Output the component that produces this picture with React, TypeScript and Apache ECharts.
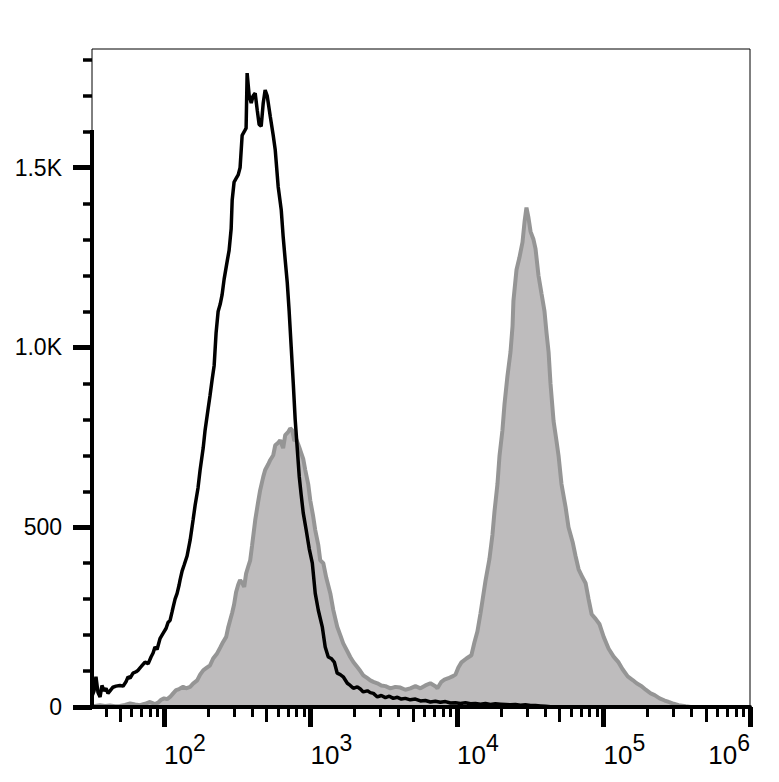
import React, { useEffect, useRef } from "react";
import * as echarts from "echarts";

// X axis is in decades: log10 of the fluorescence intensity
const X_MIN_DECADE = 1.508;
const X_MAX_DECADE = 6;
const Y_MAX = 1830;
const Y_AXIS_LINE_TOP = 1605;

const xLabelDecades = [2, 3, 4, 5];
const xLastLabelDecade = [6];
const xMajorTickDecades = [2, 3, 4, 5, 6];
const xMidTickValues = [50, 500, 5000, 50000, 500000];
const xMinorTickValues = [
  40, 60, 70, 80, 90,
  200, 300, 400, 600, 700, 800, 900,
  2000, 3000, 4000, 6000, 7000, 8000, 9000,
  20000, 30000, 40000, 60000, 70000, 80000, 90000,
  200000, 300000, 400000, 600000, 700000, 800000, 900000,
];

const yLabelValues = [0, 500, 1000, 1500];
const yLabelTexts = ["0", "500", "1.0K", "1.5K"];
const yMinorTickValues = [100, 200, 300, 400, 600, 700, 800, 900, 1100, 1200, 1300, 1400, 1600, 1700, 1800];

// Black (control) histogram: position in decades, count
const blackX = [
  1.508, 1.522, 1.535, 1.549, 1.563, 1.576, 1.590, 1.604, 1.617, 1.631, 1.651, 1.672, 1.699, 1.720, 1.740, 1.754,
  1.768, 1.788, 1.809, 1.822, 1.843, 1.870, 1.891, 1.911, 1.925, 1.938, 1.952, 1.973, 1.993, 2.014, 2.027, 2.041,
  2.055, 2.062, 2.075, 2.089, 2.103, 2.109, 2.123, 2.137, 2.157, 2.178, 2.198, 2.212, 2.232, 2.246, 2.267, 2.280,
  2.301, 2.314, 2.328, 2.342, 2.355, 2.369, 2.383, 2.396, 2.410, 2.431, 2.444, 2.458, 2.465, 2.478, 2.492, 2.506,
  2.519, 2.533, 2.547, 2.560, 2.567, 2.581, 2.595, 2.608, 2.622, 2.636, 2.649, 2.663, 2.677, 2.690, 2.704, 2.725,
  2.745, 2.759, 2.779, 2.800, 2.813, 2.827, 2.841, 2.854, 2.868, 2.882, 2.895, 2.909, 2.923, 2.936, 2.950, 2.971,
  2.991, 3.012, 3.032, 3.053, 3.080, 3.100, 3.121, 3.141, 3.162, 3.182, 3.203, 3.223, 3.251, 3.271, 3.292, 3.319,
  3.340, 3.360, 3.388, 3.408, 3.429, 3.456, 3.483, 3.511, 3.538, 3.565, 3.593, 3.620, 3.647, 3.681, 3.716, 3.750,
  3.784, 3.818, 3.852, 3.886, 3.921, 3.955, 3.989, 4.023, 4.057, 4.092, 4.126, 4.160, 4.194, 4.228, 4.262, 4.297,
  4.331, 4.365, 4.399, 4.433, 4.467, 4.502, 4.536, 4.570, 4.604, 4.638, 4.707,
];
const blackY = [
  30, 45, 84, 40, 28, 60, 45, 52, 38, 45, 55, 58, 60, 58, 70, 84,
  80, 94, 98, 102, 112, 125, 120, 139, 150, 167, 160, 191, 205, 219, 235, 241,
  265, 278, 300, 316, 340, 353, 378, 395, 420, 464, 520, 561, 610, 659, 720, 770,
  830, 867, 910, 950, 1040, 1100, 1120, 1146, 1190, 1240, 1270, 1330, 1410, 1460, 1470, 1480,
  1500, 1590, 1600, 1610, 1763, 1700, 1680, 1700, 1707, 1660, 1620, 1615, 1680, 1716, 1700, 1642,
  1590, 1549, 1447, 1382, 1308, 1243, 1180, 1100, 1000, 900, 800, 720, 640, 590, 540, 490,
  440, 400, 316, 269, 223, 167, 139, 135, 125, 94, 90, 84, 66, 60, 52, 56,
  50, 42, 45, 40, 38, 28, 32, 26, 30, 24, 27, 22, 24, 20, 22, 17,
  18, 14, 16, 13, 15, 11, 12, 10, 12, 9, 10, 8, 10, 7, 9, 8,
  7, 6, 7, 5, 6, 4, 4, 3, 2, 1, 0,
];

// Gray (stained) histogram: position in decades, count
const grayX = [
  1.508, 1.528, 1.563, 1.597, 1.631, 1.665, 1.699, 1.733, 1.768, 1.802, 1.836, 1.870, 1.904, 1.938, 1.959, 1.980,
  2.000, 2.021, 2.041, 2.062, 2.082, 2.103, 2.130, 2.150, 2.178, 2.198, 2.226, 2.246, 2.267, 2.287, 2.314, 2.335,
  2.362, 2.383, 2.403, 2.424, 2.437, 2.451, 2.465, 2.478, 2.492, 2.506, 2.519, 2.533, 2.547, 2.560, 2.574, 2.588,
  2.601, 2.622, 2.642, 2.656, 2.677, 2.690, 2.711, 2.725, 2.745, 2.759, 2.779, 2.793, 2.813, 2.827, 2.848, 2.861,
  2.875, 2.889, 2.902, 2.916, 2.930, 2.950, 2.964, 2.984, 2.998, 3.018, 3.032, 3.053, 3.066, 3.087, 3.107, 3.135,
  3.155, 3.182, 3.203, 3.223, 3.251, 3.271, 3.292, 3.319, 3.340, 3.360, 3.388, 3.408, 3.429, 3.456, 3.483, 3.511,
  3.545, 3.579, 3.613, 3.647, 3.681, 3.716, 3.750, 3.784, 3.818, 3.852, 3.866, 3.893, 3.914, 3.941, 3.968, 3.989,
  4.009, 4.030, 4.064, 4.098, 4.119, 4.139, 4.160, 4.174, 4.194, 4.221, 4.242, 4.256, 4.276, 4.290, 4.310, 4.324,
  4.344, 4.365, 4.379, 4.385, 4.406, 4.426, 4.447, 4.461, 4.474, 4.488, 4.502, 4.522, 4.536, 4.556, 4.577, 4.597,
  4.611, 4.625, 4.638, 4.659, 4.679, 4.693, 4.713, 4.741, 4.761, 4.789, 4.809, 4.830, 4.857, 4.878, 4.898, 4.919,
  4.946, 4.973, 5.001, 5.035, 5.069, 5.103, 5.130, 5.165, 5.199, 5.226, 5.260, 5.288, 5.322, 5.349, 5.383, 5.418,
  5.445, 5.479, 5.513, 5.561, 5.595,
];
const grayY = [
  0, 3, 5, 3, 4, 2, 3, 6, 10, 7, 5, 9, 14, 8, 12, 20,
  24, 22, 28, 38, 47, 50, 56, 52, 56, 65, 74, 90, 102, 108, 116, 135,
  149, 165, 181, 195, 220, 241, 262, 285, 320, 340, 353, 345, 334, 371, 390, 408,
  450, 519, 570, 603, 640, 659, 675, 687, 700, 728, 735, 742, 720, 756, 765, 775,
  770, 740, 745, 730, 714, 690, 659, 620, 575, 530, 492, 450, 408, 400, 360, 316,
  270, 223, 200, 177, 155, 139, 125, 111, 100, 88, 80, 74, 70, 66, 60, 58,
  52, 56, 54, 48, 52, 58, 52, 60, 66, 58, 52, 70, 76, 80, 85, 90,
  110, 124, 135, 144, 180, 210, 260, 297, 350, 411, 480, 545, 620, 699, 770, 842,
  920, 987, 1060, 1130, 1216, 1250, 1293, 1350, 1389, 1360, 1322, 1300, 1274, 1200, 1149, 1101,
  1040, 987, 900, 795, 740, 699, 620, 556, 500, 459, 420, 383, 360, 344, 300, 258,
  245, 230, 195, 162, 140, 124, 105, 85, 75, 66, 58, 48, 38, 33, 24, 18,
  14, 9, 5, 2, 0,
];

const FONT = "'Liberation Sans', Arial, Helvetica, sans-serif";

export default function App() {
  const ref = useRef<HTMLDivElement>(null);

  useEffect(() => {
    const el = ref.current;
    if (!el) return;
    const chart = echarts.init(el, null, { renderer: "svg" });

    const hiddenX = {
      type: "value",
      gridIndex: 0,
      position: "bottom",
      min: X_MIN_DECADE,
      max: X_MAX_DECADE,
      axisLine: { show: false },
      splitLine: { show: false },
      axisLabel: { show: false },
      axisTick: { show: false },
    };
    const hiddenY = {
      type: "value",
      gridIndex: 0,
      position: "left",
      min: 0,
      max: Y_MAX,
      axisLine: { show: false },
      splitLine: { show: false },
      axisLabel: { show: false },
      axisTick: { show: false },
    };

    const richLabel = {
      b: { fontSize: 26, lineHeight: 37, verticalAlign: "bottom", fontFamily: FONT, color: "#000" },
      s: { fontSize: 23, lineHeight: 20, verticalAlign: "top", fontFamily: FONT, color: "#000" },
    };
    const powerFmt = (v: number) => `{b|10}{s|${Math.round(v)}}`;

    const option: any = {
      animation: false,
      backgroundColor: "#ffffff",
      grid: {
        left: 92,
        top: 49,
        width: 658,
        height: 658,
        show: true,
        borderColor: "#000",
        borderWidth: 1,
        backgroundColor: "transparent",
      },
      xAxis: [
        {
          ...hiddenX,
          z: 5,
          axisLine: { show: true, lineStyle: { color: "#000", width: 4 } },
          axisTick: {
            show: true,
            customValues: xMajorTickDecades,
            length: 20,
            lineStyle: { color: "#000", width: 5 },
          },
          axisLabel: {
            show: true,
            customValues: xLabelDecades,
            align: "left",
            margin: 24,
            formatter: powerFmt,
            rich: richLabel,
          },
        },
        {
          ...hiddenX,
          z: 5,
          axisTick: {
            show: true,
            customValues: xMidTickValues.map((v) => Math.log10(v)),
            length: 15,
            lineStyle: { color: "#000", width: 3 },
          },
        },
        {
          ...hiddenX,
          z: 5,
          axisTick: {
            show: true,
            customValues: xMinorTickValues.map((v) => Math.log10(v)),
            length: 10,
            lineStyle: { color: "#000", width: 3 },
          },
        },
        {
          ...hiddenX,
          z: 5,
          axisLabel: {
            show: true,
            customValues: xLastLabelDecade,
            align: "right",
            margin: 24,
            formatter: powerFmt,
            rich: richLabel,
          },
        },
      ],
      yAxis: [
        {
          ...hiddenY,
          z: 5,
          axisTick: {
            show: true,
            customValues: yLabelValues,
            length: 19,
            lineStyle: { color: "#000", width: 5 },
          },
          axisLabel: {
            show: true,
            customValues: yLabelValues,
            margin: 30,
            fontSize: 23,
            fontFamily: FONT,
            color: "#000",
            formatter: (v: number) => {
              const i = yLabelValues.indexOf(v);
              return i >= 0 ? yLabelTexts[i] : "";
            },
          },
        },
        {
          ...hiddenY,
          z: 5,
          axisTick: {
            show: true,
            customValues: yMinorTickValues,
            length: 9,
            lineStyle: { color: "#000", width: 3.5 },
          },
        },
      ],
      series: [
        {
          name: "stained",
          type: "line",
          xAxisIndex: 0,
          yAxisIndex: 0,
          data: grayX.map((x, i) => [x, grayY[i]]),
          showSymbol: false,
          symbol: "none",
          lineStyle: { color: "#959595", width: 4 },
          areaStyle: { color: "#bebcbd", opacity: 1 },
          z: 2,
          silent: true,
        },
        {
          name: "control",
          type: "line",
          xAxisIndex: 0,
          yAxisIndex: 0,
          data: blackX.map((x, i) => [x, blackY[i]]),
          showSymbol: false,
          symbol: "none",
          lineStyle: { color: "#000", width: 3.5 },
          z: 3,
          silent: true,
        },
      ],
    };

    chart.setOption(option);

    const p0 = chart.convertToPixel({ xAxisIndex: 0, yAxisIndex: 0 }, [X_MIN_DECADE, 0]) as number[];
    const p1 = chart.convertToPixel({ xAxisIndex: 0, yAxisIndex: 0 }, [X_MIN_DECADE, Y_AXIS_LINE_TOP]) as number[];
    chart.setOption({
      graphic: {
        elements: [
          {
            type: "line",
            silent: true,
            z: 10,
            shape: { x1: p0[0], y1: p0[1], x2: p1[0], y2: p1[1] },
            style: { stroke: "#000", lineWidth: 4 },
          },
        ],
      },
    });

    return () => {
      chart.dispose();
    };
  }, []);

  return (
    <div
      ref={ref}
      style={{ position: "fixed", left: 0, top: 0, width: 779, height: 782, background: "#fff" }}
    />
  );
}
